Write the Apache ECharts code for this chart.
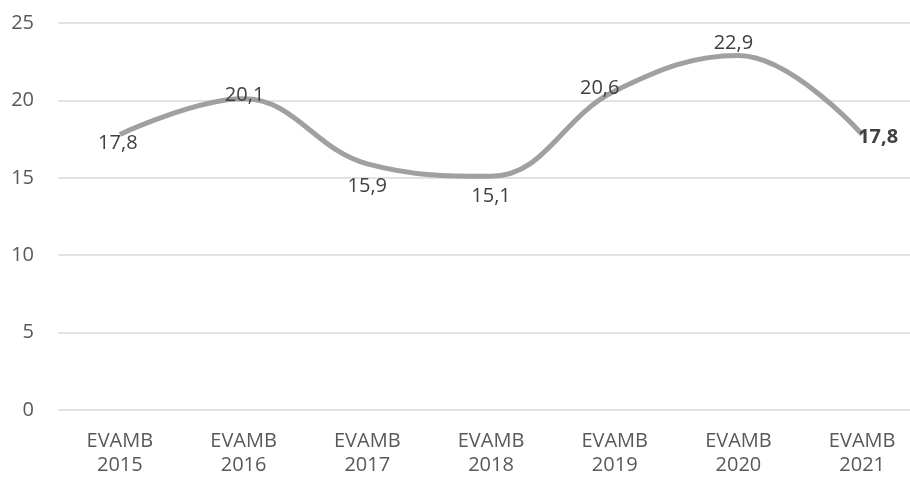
<!DOCTYPE html>
<html>
<head>
<meta charset="utf-8">
<script src="https://cdn.jsdelivr.net/npm/echarts@6/dist/echarts.min.js"></script>
<style>
  html, body { margin: 0; padding: 0; background: #fff; }
  #chart { width: 910px; height: 479px; }
</style>
</head>
<body>
<div id="chart"></div>
<script>
const categories = ["EVAMB\n2015", "EVAMB\n2016", "EVAMB\n2017", "EVAMB\n2018", "EVAMB\n2019", "EVAMB\n2020", "EVAMB\n2021"];
const values = [17.8, 20.1, 15.9, 15.1, 20.6, 22.9, 17.8];
const yTicks = [0, 5, 10, 15, 20, 25];

// label placement per point, tuned by eye (offset from point centre)
const labelOffsets = [[-2, 9], [1, -4], [0, 22], [0, 20], [-15, -3], [-5, -12], [16, 3]];

const chart = echarts.init(document.getElementById("chart"));
const fmt = (v) => String(v).replace(".", ",");

const option = {
  animation: false,
  grid: { left: 58, width: 866, top: 23, bottom: 69, outerBoundsMode: "none", containLabel: false },
  xAxis: {
    type: "category",
    data: categories,
    boundaryGap: true,
    axisLine: { show: false },
    axisTick: { show: false },
    axisLabel: {
      color: "#595959",
      fontSize: 20,
      fontFamily: "Open Sans",
      lineHeight: 24,
      margin: 19
    }
  },
  yAxis: {
    type: "value",
    min: yTicks[0],
    max: yTicks[yTicks.length - 1],
    interval: 5,
    axisLabel: {
      color: "#595959",
      fontSize: 20,
      fontFamily: "Open Sans",
      margin: 24
    },
    splitLine: { lineStyle: { color: "#d9d9d9", width: 1.5 } }
  },
  series: [{
    type: "line",
    smooth: 0.4,
    symbol: "circle",
    symbolSize: 1,
    showSymbol: true,
    itemStyle: { color: "rgba(0,0,0,0)" },
    lineStyle: { color: "#a0a0a0", width: 5 },
    label: {
      show: true,
      position: "inside",
      formatter: (p) => fmt(p.value),
      color: "#404040",
      fontSize: 20,
      fontFamily: "Open Sans"
    },
    data: values.map((v, i) => ({
      value: v,
      label: {
        offset: labelOffsets[i],
        fontWeight: i === values.length - 1 ? "bold" : "normal"
      }
    }))
  }]
};

chart.setOption(option);
</script>
</body>
</html>
